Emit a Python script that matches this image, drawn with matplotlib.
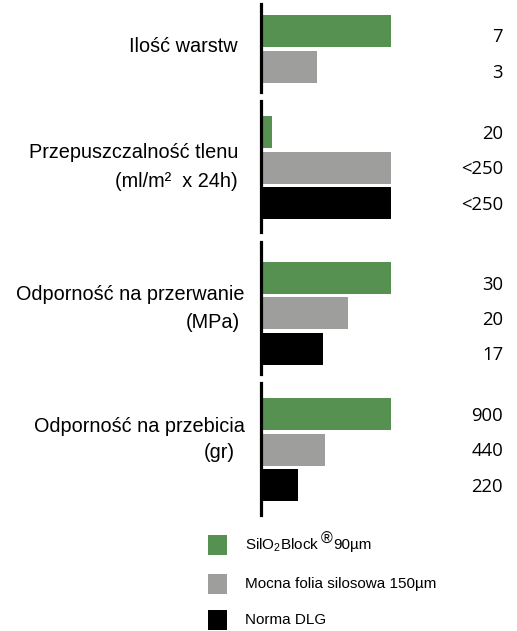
import matplotlib
matplotlib.use("Agg")
import matplotlib.pyplot as plt
from matplotlib.patches import Rectangle

plt.rcParams["mathtext.fontset"] = "custom"
plt.rcParams["mathtext.rm"] = "Liberation Sans"
plt.rcParams["mathtext.it"] = "Liberation Sans:italic"
plt.rcParams["mathtext.bf"] = "Liberation Sans:bold"

W, H = 517, 631
DPI = 100

# ---- data ----
categories = [
    ["Ilość warstw"],
    ["Przepuszczalność tlenu", "(ml/m²  x 24h)"],
    ["Odporność na przerwanie", "(MPa)"],
    ["Odporność na przebicia", "(gr)"],
]
# first legend entry is composed of parts: base, raised mark, tail
series_names = [["SilO$_{2}$Block", "®", "90µm"], ["Mocna folia silosowa 150µm"], ["Norma DLG"]]
colors = ["#579152", "#9e9e9d", "#000000"]

# bar lengths (relative, % of the longest bar in each group)
lengths_g1 = [100, 43]
lengths_g2 = [8, 100, 100]
lengths_g3 = [100, 67, 47]
lengths_g4 = [100, 49, 28]
lengths = [lengths_g1, lengths_g2, lengths_g3, lengths_g4]

labels_g1 = ["7", "3"]
labels_g2 = ["20", "<250", "<250"]
labels_g3 = ["30", "20", "17"]
labels_g4 = ["900", "440", "220"]
value_labels = [labels_g1, labels_g2, labels_g3, labels_g4]

# ---- layout (pixels) ----
axes_px = [(4, 92, 27), (101, 232, 31), (242, 374, 35.5), (383, 515, 31)]
label_offsets = [6, 2, 7, 2]
cat_label_y = [[47], [153, 181], [295, 323], [426, 453]]
cat_label_x = [[238], [238, 238], [245, 240], [245, 235]]
pitch = 35.5
x0_px, x1_px = 262, 391

fig = plt.figure(figsize=(W / DPI, H / DPI), dpi=DPI)

def fx(x):
    return x / W

def fy(y):
    return 1 - y / H

for gi, (top, bot, c0) in enumerate(axes_px):
    ax = fig.add_axes([fx(x0_px), fy(bot), (x1_px - x0_px) / W, (bot - top) / H])
    n = len(lengths[gi])
    ys = list(range(n))
    ax.barh(ys, lengths[gi], height=32 / pitch, color=colors[:n], left=0)
    hgt = bot - top
    ax.set_ylim((hgt - c0) / pitch, -c0 / pitch)
    ax.set_xlim(0, 100)
    for s in ["top", "right", "bottom"]:
        ax.spines[s].set_visible(False)
    ax.spines["left"].set_linewidth(2.3)
    ax.spines["left"].set_position(("outward", 1))
    ax.set_xticks([])
    ax.set_yticks([])
    ax.patch.set_alpha(0)
    for i, lab in enumerate(value_labels[gi]):
        ypx = top + c0 + i * pitch + label_offsets[gi]
        fig.text(fx(503), fy(ypx), lab, ha="right", va="center",
                 fontsize=13.3, family="Open Sans", color="black")
    for txt, yy, xx in zip(categories[gi], cat_label_y[gi], cat_label_x[gi]):
        fig.text(fx(xx), fy(yy), txt, ha="right", va="center",
                 fontsize=14.3, family="Liberation Sans", color="black")

# legend
leg_y = [545, 584, 620]
renderer = fig.canvas.get_renderer()
for parts, col, yy in zip(series_names, colors, leg_y):
    fig.add_artist(Rectangle((fx(208), fy(yy + 10)), 19 / W, 20 / H,
                             transform=fig.transFigure, color=col, lw=0))
    if len(parts) == 1:
        fig.text(fx(245), fy(yy), parts[0], ha="left", va="center",
                 fontsize=11, family="Liberation Sans", color="black")
    else:
        t1 = fig.text(fx(245), fy(yy), parts[0], ha="left", va="center",
                      fontsize=11, family="Liberation Sans", color="black")
        x_end = t1.get_window_extent(renderer).x1
        t2 = fig.text((x_end + 1) / W, fy(yy - 6), parts[1], ha="left", va="center",
                      fontsize=11.5, family="Liberation Sans", color="black")
        x_end2 = t2.get_window_extent(renderer).x1
        fig.text((x_end2 + 0.5) / W, fy(yy), parts[2], ha="left", va="center",
                 fontsize=11, family="Liberation Sans", color="black")

fig.savefig("out.png", dpi=DPI)
